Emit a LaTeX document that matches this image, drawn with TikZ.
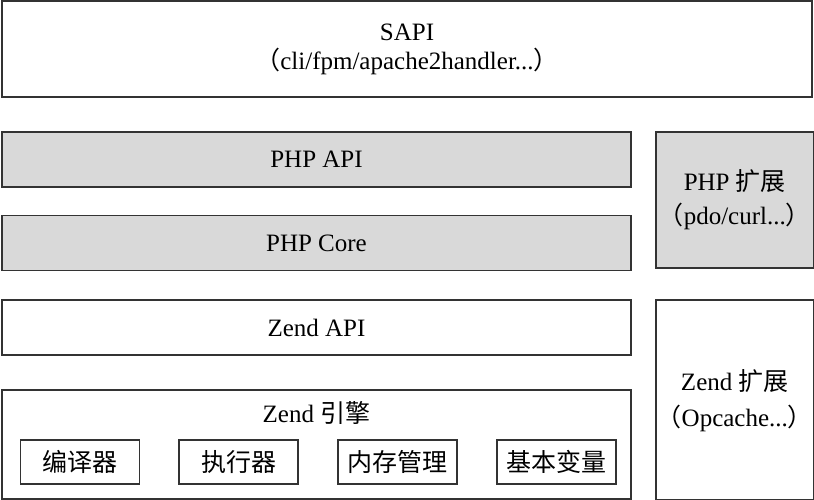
\documentclass[tikz,border=0pt]{standalone}
\usepackage{fontspec}
\setmainfont{Liberation Serif}
\newfontfamily\cjk{Noto Sans CJK SC}
\usetikzlibrary{positioning}

\begin{document}
\begin{tikzpicture}
  [x=1pt,y=1pt,
   layer/.style={rectangle,draw=black!80,line width=1.8pt,inner sep=0pt,
                 minimum width=629pt,minimum height=55pt,align=center,
                 font=\fontsize{25}{29}\selectfont},
   core/.style={layer,fill=black!15},
   part/.style={rectangle,draw=black!80,line width=1.8pt,inner sep=0pt,
                minimum width=119pt,minimum height=44pt,
                font=\fontsize{25}{29}\selectfont\cjk}]
  \useasboundingbox (0,0) rectangle (814,500);
  \node[layer,minimum width=810pt,minimum height=96pt] (sapi) at (407,451)
    {SAPI\\{\cjk （}cli/fpm/apache2handler...{\cjk ）}};
  \node[core]  (php api)   [below=33pt of sapi.south west,anchor=north west] {PHP API};
  \node[core]  (php core)  [below=27pt of php api]  {PHP Core};
  \node[layer] (zend api)  [below=28pt of php core] {Zend API};
  \node[layer,minimum height=109pt] (zend engine) [below=33pt of zend api] {};
  \node[core,minimum width=158pt,minimum height=136pt] (php ext)
    [right=23pt of php api.north east,anchor=north west]
    {PHP {\cjk 扩展}\\[5pt]{\cjk （}pdo/curl...{\cjk ）}};
  \node[layer,minimum width=158pt,minimum height=200pt] (zend ext)
    [right=23pt of zend api.north east,anchor=north west]
    {Zend {\cjk 扩展}\\[7pt]{\cjk （}Opcache...{\cjk ）}};
  % Zend engine parts
  \node[font=\fontsize{25}{29}\selectfont] (engine title)
    [below=9pt of zend engine.north] {Zend {\cjk 引擎}};
  \node[part] (compiler) at (80,38) {编译器};
  \node[part] (executor) [right=38pt of compiler] {执行器};
  \node[part] (memory)   [right=38pt of executor] {内存管理};
  \node[part] (vars)     [right=38pt of memory]   {基本变量};
\end{tikzpicture}
\end{document}
